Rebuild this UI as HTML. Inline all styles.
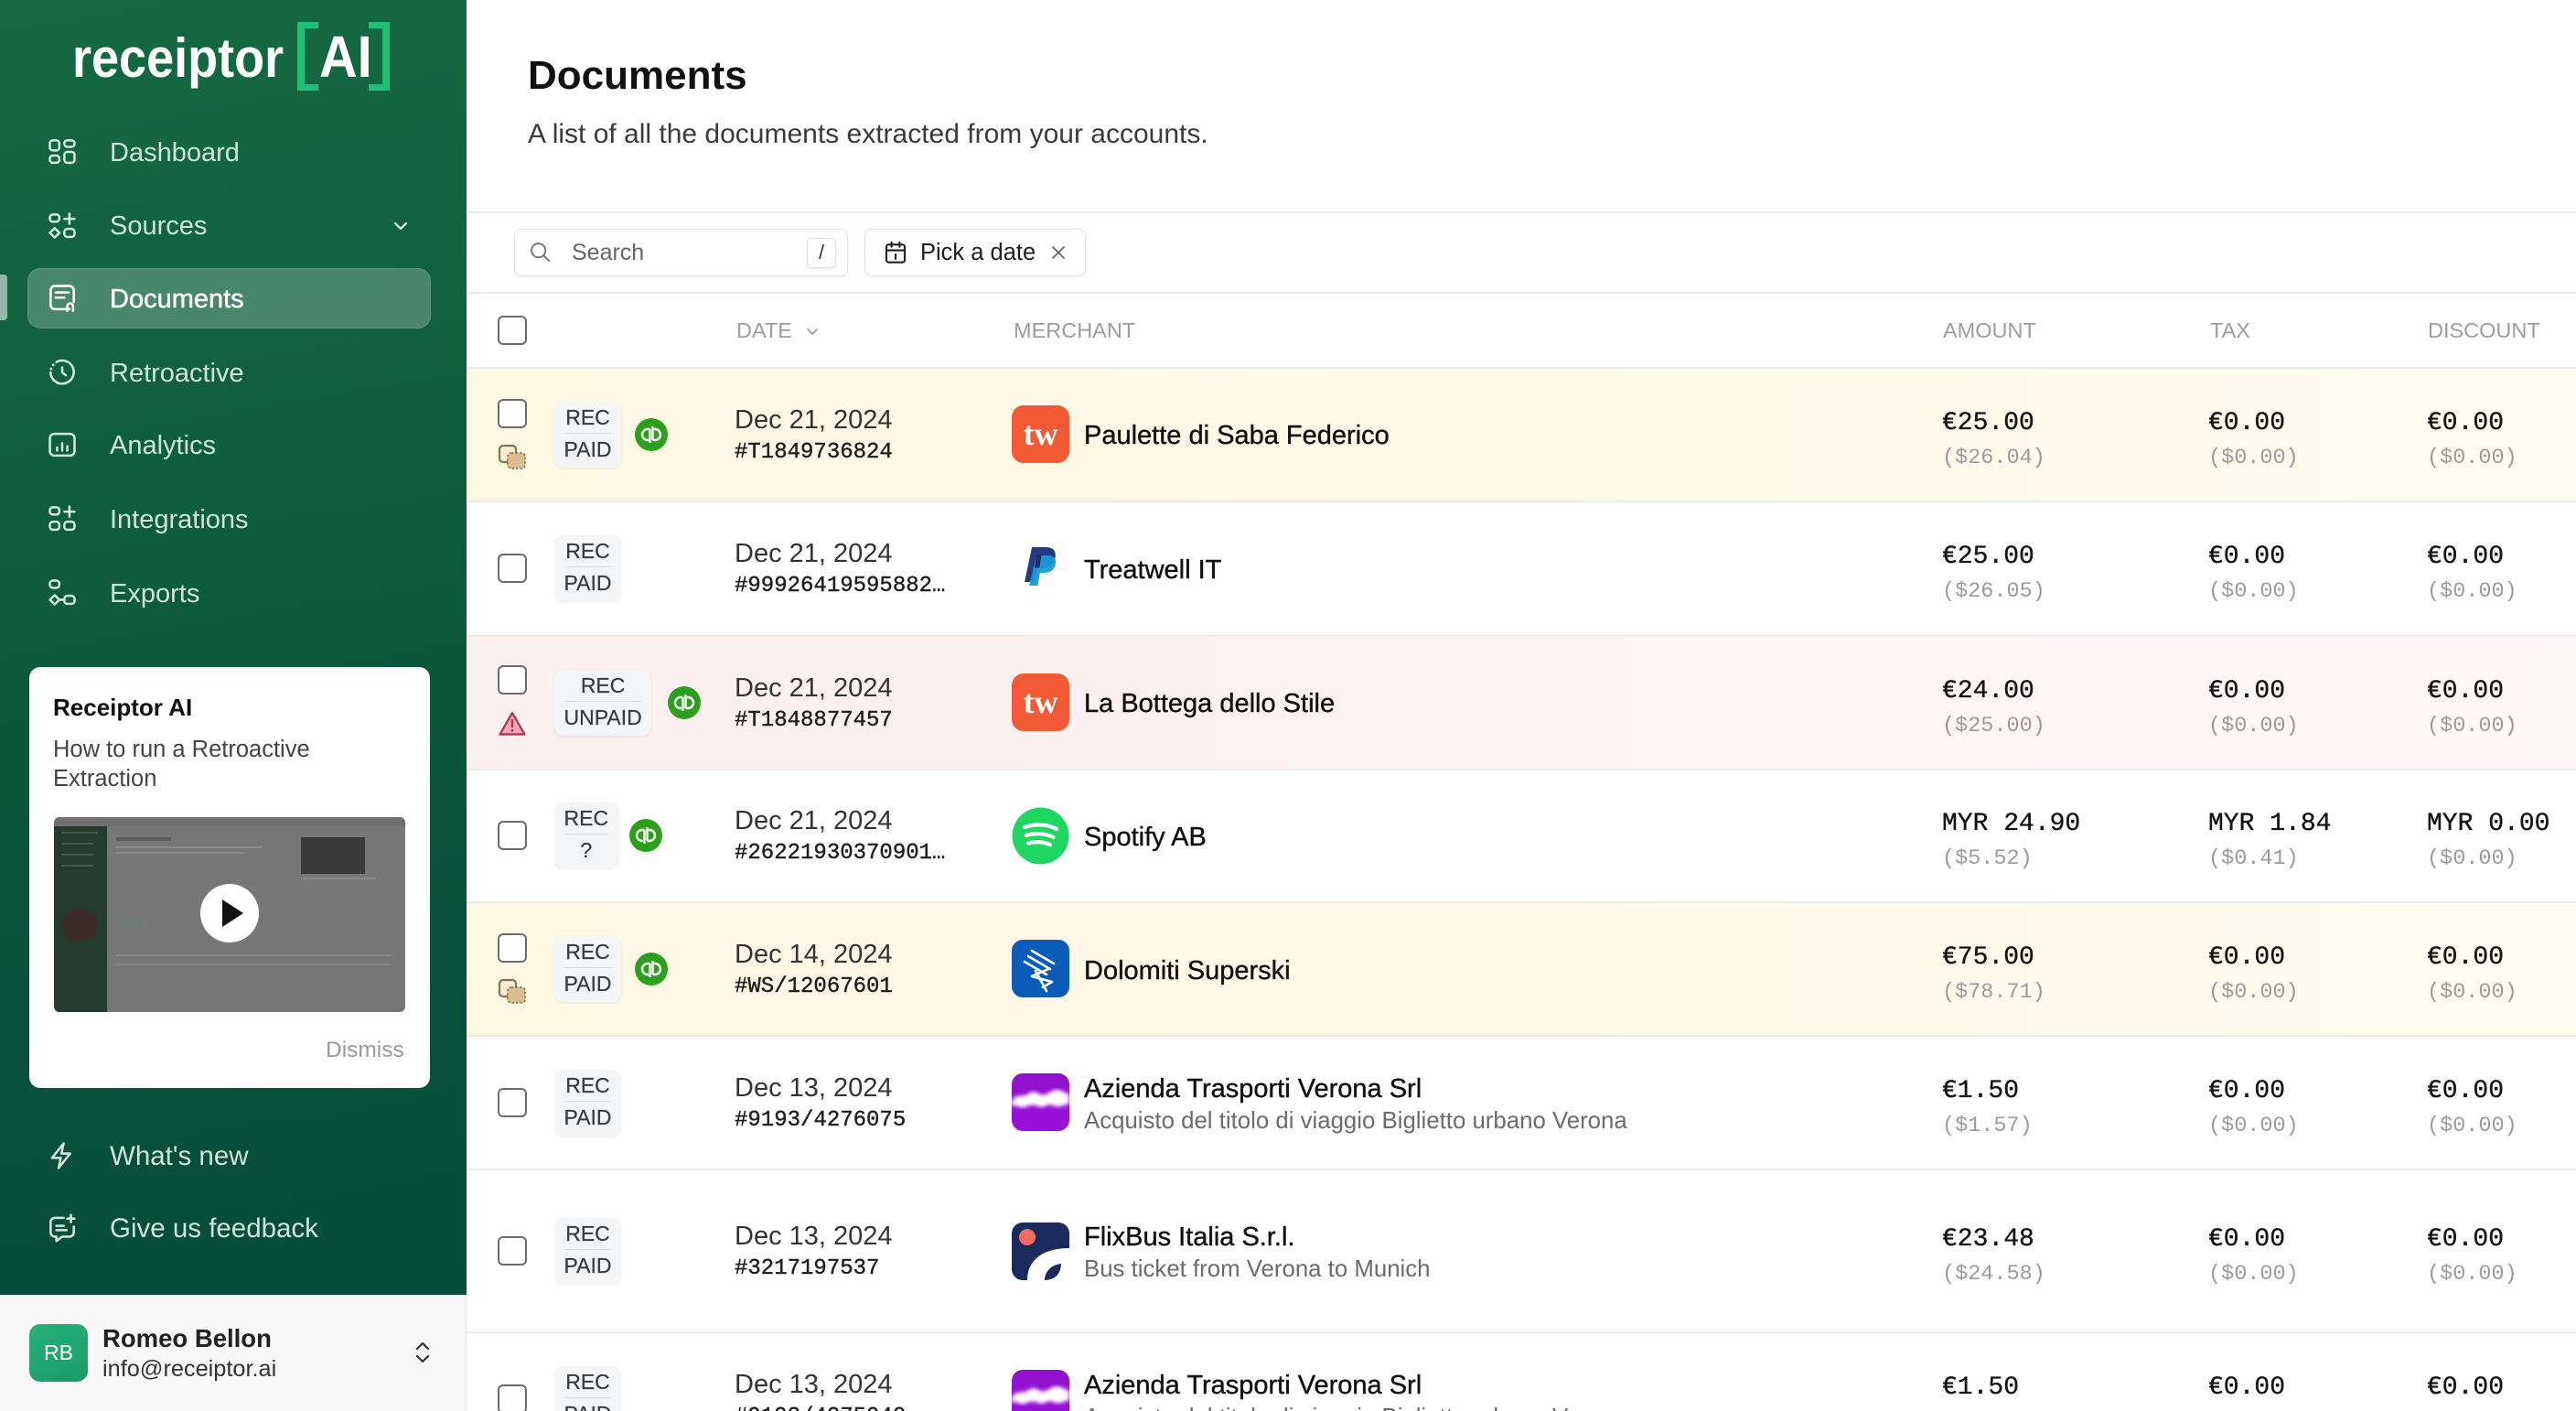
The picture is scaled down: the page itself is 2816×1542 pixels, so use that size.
<!DOCTYPE html>
<html><head><meta charset="utf-8">
<style>
*{margin:0;padding:0;box-sizing:border-box}
html,body{width:2816px;height:1542px;overflow:hidden;background:#fff;font-family:"Liberation Sans",Arial,sans-serif;position:relative}
.a{position:absolute;white-space:nowrap}
#side{position:absolute;left:0;top:0;width:510px;height:1415px;background:linear-gradient(170deg,#156a42 0%,#0e5d3d 40%,#08513b 75%,#064d39 100%)}
.nav{position:absolute;left:120px;height:40px;line-height:40px;font-size:29px;color:#cfe5d8;white-space:nowrap}
.nic{position:absolute;left:49px;width:38px;height:38px}
.nic *{fill:none;stroke:#d3e9dc;stroke-width:1.6;stroke-linecap:round;stroke-linejoin:round}
.hl{position:absolute;left:0;width:2816px;height:2px;background:#ebebeb}
.rowbg{position:absolute;left:510px;width:2306px}
.cb{position:absolute;left:544px;width:32px;height:32px;border:2.5px solid #6c6c6c;border-radius:6px;background:#fff}
.tag{position:absolute;left:606px;height:72px;padding:0 10.5px;background:#f4f5f6;border-radius:10px;box-shadow:0 1px 3px rgba(0,0,0,.08);font-size:23px;color:#383c42;text-align:center;-webkit-text-stroke:.25px #383c42}
.tag div{height:35px;line-height:35px}
.tag div:first-child{border-bottom:1.5px solid #dcdfe2}
.qb{position:absolute;width:36px;height:36px}
.d1{position:absolute;left:803px;height:36px;line-height:36px;font-size:29px;color:#333;white-space:nowrap}
.d2{position:absolute;left:803px;height:32px;line-height:32px;font-family:"Liberation Mono",monospace;font-size:24px;color:#1e1e1e;-webkit-text-stroke:.4px #1e1e1e;white-space:nowrap}
.mi{position:absolute;left:1106px;width:63px;height:63px}
.mn{position:absolute;left:1185px;height:38px;line-height:38px;font-size:29px;color:#111;-webkit-text-stroke:.4px #111;white-space:nowrap}
.ms{position:absolute;left:1185px;height:32px;line-height:32px;font-size:25.8px;color:#6b6b6b;white-space:nowrap}
.v1{position:absolute;height:34px;line-height:34px;font-family:"Liberation Mono",monospace;font-size:28px;color:#141414;-webkit-text-stroke:.35px #141414;white-space:nowrap;margin-top:4px}
.v2{position:absolute;height:30px;line-height:30px;font-family:"Liberation Mono",monospace;font-size:23.5px;color:#9a9a9a;white-space:nowrap;margin-top:4px}
.c1{left:2123px}.c2{left:2414px}.c3{left:2653px}
.th{position:absolute;top:345px;height:32px;line-height:32px;font-size:23.5px;color:#9d9d9d;white-space:nowrap}
</style></head><body>

<!-- SIDEBAR -->
<div id="side"></div>
<!-- logo -->
<div class="a" style="left:79px;top:19px;height:90px;line-height:90px;font-size:60px;font-weight:bold;color:#fff;transform:scaleX(.9);transform-origin:left center">receiptor</div>
<div class="a" style="left:325px;top:24px;width:8px;height:75px;background:#1fbf75"></div>
<div class="a" style="left:325px;top:24px;width:23px;height:7px;background:#1fbf75"></div>
<div class="a" style="left:325px;top:92px;width:23px;height:7px;background:#1fbf75"></div>
<div class="a" style="left:418px;top:24px;width:8px;height:75px;background:#1fbf75"></div>
<div class="a" style="left:403px;top:24px;width:23px;height:7px;background:#1fbf75"></div>
<div class="a" style="left:403px;top:92px;width:23px;height:7px;background:#1fbf75"></div>
<div class="a" style="left:349px;top:22px;height:80px;line-height:80px;font-size:64px;font-weight:bold;color:#fff;transform:scaleX(.9);transform-origin:left center">AI</div>

<!-- nav highlight -->
<div class="a" style="left:30px;top:293px;width:441px;height:66px;border-radius:14px;background:rgba(255,255,255,.24);border:1.5px solid rgba(255,255,255,.12)"></div>
<div class="a" style="left:0;top:300px;width:8px;height:50px;border-radius:0 4px 4px 0;background:rgba(255,255,255,.55)"></div>

<!-- nav icons -->
<svg class="nic" style="top:147px" viewBox="0 0 24 24"><rect x="3.5" y="4" width="6.5" height="7" rx="2"/><rect x="13.5" y="4" width="7" height="4.5" rx="2"/><rect x="3.5" y="14.5" width="6.5" height="5" rx="2"/><rect x="13.5" y="12" width="7" height="7.5" rx="2"/></svg>
<div class="nav" style="top:147px">Dashboard</div>

<svg class="nic" style="top:228px" viewBox="0 0 24 24"><rect x="3.5" y="4" width="6.5" height="5" rx="2"/><path d="M17 3.5v7M13.5 7h7"/><path d="M6.8 13.5l3.3 3.2-3.3 3.2-3.3-3.2z"/><rect x="13.5" y="14" width="7" height="5.5" rx="2"/></svg>
<div class="nav" style="top:227px">Sources</div>
<svg class="a" style="left:428px;top:237px" width="20" height="20" viewBox="0 0 20 20"><path d="M4 7l6 6 6-6" fill="none" stroke="#e6f2ea" stroke-width="2.2" stroke-linecap="round" stroke-linejoin="round"/></svg>

<svg class="nic" style="top:307px" viewBox="0 0 24 24"><path d="M17 19.5H7a3 3 0 0 1-3-3v-10a3 3 0 0 1 3-3h10a3 3 0 0 1 3 3v8" style="stroke:#fff"/><path d="M7.5 8h9M7.5 11.5h6" style="stroke:#fff"/><path d="M15.5 20.5v-3a2 2 0 0 1 4 0v3" style="stroke:#fff"/></svg>
<div class="nav" style="top:307px;color:#fff;-webkit-text-stroke:.5px #fff">Documents</div>

<svg class="nic" style="top:388px" viewBox="0 0 24 24"><path d="M8 4.8A8 8 0 1 1 4 12" /><path d="M4.3 9.5v0M5.8 6.8v0M4.5 14.8v0M6.2 17.5v0M9 19.5v0" style="stroke-width:1.8"/><path d="M12 8.5v3.5l2.5 2"/></svg>
<div class="nav" style="top:388px">Retroactive</div>

<svg class="nic" style="top:467px" viewBox="0 0 24 24"><rect x="3.5" y="4.5" width="17" height="15" rx="3"/><path d="M8.5 16v-2M12 16v-5M15.5 16v-3"/></svg>
<div class="nav" style="top:467px">Analytics</div>

<svg class="nic" style="top:548px" viewBox="0 0 24 24"><rect x="3.5" y="4" width="6.5" height="5" rx="2"/><path d="M17 3.5v7M13.5 7h7"/><rect x="3.5" y="14" width="6.5" height="5.5" rx="2"/><rect x="13.5" y="14" width="7" height="5.5" rx="2"/></svg>
<div class="nav" style="top:548px">Integrations</div>

<svg class="nic" style="top:629px" viewBox="0 0 24 24"><rect x="3.5" y="3.5" width="6.5" height="5" rx="2"/><path d="M6.8 13.5l3.3 3.2-3.3 3.2-3.3-3.2z"/><path d="M10.1 16.7h3.4"/><rect x="13.5" y="14" width="7" height="5.5" rx="2"/></svg>
<div class="nav" style="top:629px">Exports</div>

<!-- card -->
<div class="a" style="left:32px;top:729px;width:438px;height:460px;border-radius:12px;background:#fff"></div>
<div class="a" style="left:58px;top:757px;height:32px;line-height:32px;font-size:26px;font-weight:bold;color:#111">Receiptor AI</div>
<div class="a" style="left:58px;top:803px;height:32px;line-height:32px;font-size:25.5px;color:#444">How to run a Retroactive</div>
<div class="a" style="left:58px;top:835px;height:32px;line-height:32px;font-size:25.5px;color:#444">Extraction</div>
<div class="a" style="left:59px;top:893px;width:384px;height:213px;border-radius:6px;background:#777;overflow:hidden">
  <div class="a" style="left:0;top:10px;width:58px;height:203px;background:#243b2f"></div>
  <div class="a" style="left:0;top:0;width:384px;height:10px;background:#6e6e6e"></div>
  <div class="a" style="left:68px;top:22px;width:60px;height:4px;background:#5e5e5e"></div>
  <div class="a" style="left:68px;top:32px;width:160px;height:2px;background:#8a8a8a"></div>
  <div class="a" style="left:68px;top:38px;width:140px;height:2px;background:#8a8a8a"></div>
  <div class="a" style="left:68px;top:110px;width:30px;height:8px;background:#6e7a70"></div>
  <div class="a" style="left:270px;top:22px;width:70px;height:40px;background:#3a3a3a"></div>
  <div class="a" style="left:270px;top:66px;width:80px;height:2px;background:#8a8a8a"></div>
  <div class="a" style="left:68px;top:150px;width:300px;height:2px;background:#8a8a8a"></div>
  <div class="a" style="left:68px;top:160px;width:300px;height:2px;background:#858585"></div>
  <div class="a" style="left:8px;top:100px;width:40px;height:36px;border-radius:50%;background:#3b2e2a"></div>
  <div class="a" style="left:8px;top:16px;width:40px;height:2px;background:#3d5a4b"></div>
  <div class="a" style="left:8px;top:28px;width:35px;height:2px;background:#3d5a4b"></div>
  <div class="a" style="left:8px;top:40px;width:35px;height:2px;background:#3d5a4b"></div>
  <div class="a" style="left:8px;top:52px;width:35px;height:2px;background:#3d5a4b"></div>
</div>
<svg class="a" style="left:219px;top:966px" width="64" height="64" viewBox="0 0 64 64"><circle cx="32" cy="32" r="32" fill="#fff"/><path d="M24 17L47 32 24 47z" fill="#111"/></svg>
<div class="a" style="left:356px;top:1132px;height:32px;line-height:32px;font-size:24.5px;color:#9a9a9a">Dismiss</div>

<!-- bottom nav -->
<svg class="nic" style="top:1244px" viewBox="0 0 24 24"><path d="M13 3.5L5 13.5h6l-1.5 7 8-10h-6z"/></svg>
<div class="nav" style="top:1244px;font-size:29.5px">What's new</div>
<svg class="nic" style="top:1323px" viewBox="0 0 24 24"><path d="M13 5H7a3 3 0 0 0-3 3v7a3 3 0 0 0 3 3h1v3l4-3h5a3 3 0 0 0 3-3v-4"/><path d="M8 10.5h5M8 13.5h7"/><path d="M18 3v5M15.5 5.5h5"/></svg>
<div class="nav" style="top:1323px;font-size:29.5px">Give us feedback</div>

<!-- user -->
<div class="a" style="left:0;top:1415px;width:510px;height:127px;background:#f7f7f7;border-right:1px solid #e8e8e8"></div>
<div class="a" style="left:32px;top:1447px;width:64px;height:63px;border-radius:12px;background:linear-gradient(160deg,#27b27a,#1a9a68);color:#fff;font-size:23px;line-height:63px;text-align:center">RB</div>
<div class="a" style="left:112px;top:1446px;height:34px;line-height:34px;font-size:27.5px;font-weight:bold;color:#222">Romeo Bellon</div>
<div class="a" style="left:112px;top:1480px;height:32px;line-height:32px;font-size:25.3px;color:#333">info@receiptor.ai</div>
<svg class="a" style="left:450px;top:1462px" width="24" height="32" viewBox="0 0 24 32"><path d="M6 12l6-6 6 6M6 20l6 6 6-6" fill="none" stroke="#333" stroke-width="2.2" stroke-linecap="round" stroke-linejoin="round"/></svg>

<!-- MAIN HEADER -->
<div class="a" style="left:577px;top:57px;height:52px;line-height:52px;font-size:44px;font-weight:bold;color:#111">Documents</div>
<div class="a" style="left:577px;top:129px;height:36px;line-height:36px;font-size:30px;color:#3a3a3a">A list of all the documents extracted from your accounts.</div>
<div class="hl" style="left:510px;top:231px"></div>

<!-- search -->
<div class="a" style="left:562px;top:250px;width:365px;height:52px;border:1.5px solid #e3e3e3;border-radius:8px;box-shadow:0 1px 3px rgba(0,0,0,.06);background:#fff"></div>
<svg class="a" style="left:577px;top:262px" width="28" height="28" viewBox="0 0 24 24"><circle cx="10" cy="10" r="6.5" fill="none" stroke="#777" stroke-width="1.7"/><path d="M15 15l5 5" stroke="#777" stroke-width="1.7" stroke-linecap="round"/></svg>
<div class="a" style="left:625px;top:258px;height:36px;line-height:36px;font-size:25px;color:#666">Search</div>
<div class="a" style="left:882px;top:260px;width:32px;height:33px;border:1.5px solid #e2e2e2;border-radius:5px;box-shadow:0 1px 2px rgba(0,0,0,.08);font-size:22px;line-height:30px;text-align:center;color:#333">/</div>

<div class="a" style="left:945px;top:250px;width:242px;height:52px;border:1.5px solid #e3e3e3;border-radius:8px;box-shadow:0 1px 3px rgba(0,0,0,.06);background:#fff"></div>
<svg class="a" style="left:964px;top:261px" width="30" height="30" viewBox="0 0 24 24"><rect x="4" y="5" width="16" height="15.5" rx="2" fill="none" stroke="#222" stroke-width="1.7"/><path d="M4 10h16M8.5 3v4M15.5 3v4M12 13.5v4" stroke="#222" stroke-width="1.7" stroke-linecap="round" fill="none"/></svg>
<div class="a" style="left:1006px;top:258px;height:36px;line-height:36px;font-size:25.5px;color:#1e1e1e">Pick a date</div>
<svg class="a" style="left:1147px;top:266px" width="20" height="20" viewBox="0 0 20 20"><path d="M4 4l12 12M16 4L4 16" stroke="#666" stroke-width="1.8" stroke-linecap="round"/></svg>

<div class="hl" style="left:510px;top:319px"></div>

<!-- table header -->
<div class="cb" style="top:345px"></div>
<div class="th" style="left:805px">DATE</div>
<svg class="a" style="left:879px;top:353px" width="18" height="18" viewBox="0 0 18 18"><path d="M4 7l5 5 5-5" fill="none" stroke="#9d9d9d" stroke-width="1.8" stroke-linecap="round" stroke-linejoin="round"/></svg>
<div class="th" style="left:1108px">MERCHANT</div>
<div class="th" style="left:2124px">AMOUNT</div>
<div class="th" style="left:2416px">TAX</div>
<div class="th" style="left:2654px">DISCOUNT</div>
<div class="hl" style="left:510px;top:401px"></div>

<!-- ROW 1 T=402 C=475 -->
<div class="rowbg" style="top:403px;height:144px;background:linear-gradient(90deg,#fdf8e2 0%,#fdf9e6 50%,#fefcf1 100%)"></div>
<div class="cb" style="top:436px"></div>
<svg class="a" style="left:544px;top:485px" width="34" height="30" viewBox="0 0 34 30"><rect x="2" y="2" width="18" height="18" rx="4" fill="#f6ecd8" stroke="#8a7350" stroke-width="2.2"/><rect x="11" y="10" width="19" height="17" rx="4" fill="#dcbd92" stroke="#8a6a3e" stroke-width="1.6" stroke-dasharray="2.5 2"/></svg>
<div class="tag" style="top:439px"><div>REC</div><div>PAID</div></div>
<svg class="qb" style="left:694px;top:457px" viewBox="0 0 36 36"><circle cx="18" cy="18" r="18" fill="#2ca01c"/><path d="M16.5 12h-2.5a6 6 0 0 0 0 12h1M16.5 12v15M19.5 24h2.5a6 6 0 0 0 0-12h-1M19.5 24v-15" fill="none" stroke="#fff" stroke-width="2.4"/></svg>
<div class="d1" style="top:441px">Dec 21, 2024</div>
<div class="d2" style="top:479px">#T1849736824</div>
<svg class="mi" style="top:443px" viewBox="0 0 63 63"><rect width="63" height="63" rx="13" fill="#f25a36"/><text x="31.5" y="43" text-anchor="middle" font-family="Liberation Serif,serif" font-size="36" font-weight="bold" fill="#fff">tw</text></svg>
<div class="mn" style="top:457px">Paulette di Saba Federico</div>
<div class="v1 c1" style="top:442px">€25.00</div><div class="v2 c1" style="top:482px">($26.04)</div>
<div class="v1 c2" style="top:442px">€0.00</div><div class="v2 c2" style="top:482px">($0.00)</div>
<div class="v1 c3" style="top:442px">€0.00</div><div class="v2 c3" style="top:482px">($0.00)</div>
<div class="hl" style="left:510px;top:547px"></div>

<!-- ROW 2 T=549 C=621 -->
<div class="cb" style="top:605px"></div>
<div class="tag" style="top:585px"><div>REC</div><div>PAID</div></div>
<div class="d1" style="top:587px">Dec 21, 2024</div>
<div class="d2" style="top:625px">#99926419595882…</div>
<svg class="mi" style="top:590px" viewBox="0 0 63 63"><path d="M22 8h15c8 0 12 4 10.5 11.5C46 27 40 31 33 31h-5l-3 15H14z" fill="#253b80"/><path d="M27 17h13c6 0 9 3.5 7.8 9.5C46.5 33 42 36 35.5 36h-4.5l-2.7 14H19z" fill="#179bd7" opacity=".95"/><path d="M27 17h5.5l-2.3 13.5H25z" fill="#222d65"/></svg>
<div class="mn" style="top:604px">Treatwell IT</div>
<div class="v1 c1" style="top:588px">€25.00</div><div class="v2 c1" style="top:628px">($26.05)</div>
<div class="v1 c2" style="top:588px">€0.00</div><div class="v2 c2" style="top:628px">($0.00)</div>
<div class="v1 c3" style="top:588px">€0.00</div><div class="v2 c3" style="top:628px">($0.00)</div>
<div class="hl" style="left:510px;top:694px"></div>

<!-- ROW 3 T=696 C=768 -->
<div class="rowbg" style="top:696px;height:144px;background:linear-gradient(90deg,#fcefef 0%,#fdf2f2 50%,#fef9f9 100%)"></div>
<div class="cb" style="top:727px"></div>
<svg class="a" style="left:544px;top:776px" width="32" height="30" viewBox="0 0 32 30"><path d="M16 3L29.5 26.5H2.5z" fill="#f2a6b6" stroke="#a8324f" stroke-width="2.2" stroke-linejoin="round"/><path d="M16 11v7M16 22v.5" stroke="#a8324f" stroke-width="2.4" stroke-linecap="round"/></svg>
<div class="tag" style="top:732px"><div>REC</div><div>UNPAID</div></div>
<svg class="qb" style="left:730px;top:750px" viewBox="0 0 36 36"><circle cx="18" cy="18" r="18" fill="#2ca01c"/><path d="M16.5 12h-2.5a6 6 0 0 0 0 12h1M16.5 12v15M19.5 24h2.5a6 6 0 0 0 0-12h-1M19.5 24v-15" fill="none" stroke="#fff" stroke-width="2.4"/></svg>
<div class="d1" style="top:734px">Dec 21, 2024</div>
<div class="d2" style="top:772px">#T1848877457</div>
<svg class="mi" style="top:736px" viewBox="0 0 63 63"><rect width="63" height="63" rx="13" fill="#f25a36"/><text x="31.5" y="43" text-anchor="middle" font-family="Liberation Serif,serif" font-size="36" font-weight="bold" fill="#fff">tw</text></svg>
<div class="mn" style="top:750px">La Bottega dello Stile</div>
<div class="v1 c1" style="top:735px">€24.00</div><div class="v2 c1" style="top:775px">($25.00)</div>
<div class="v1 c2" style="top:735px">€0.00</div><div class="v2 c2" style="top:775px">($0.00)</div>
<div class="v1 c3" style="top:735px">€0.00</div><div class="v2 c3" style="top:775px">($0.00)</div>
<div class="hl" style="left:510px;top:840px"></div>

<!-- ROW 4 T=842 C=913 -->
<div class="cb" style="top:897px"></div>
<div class="tag" style="top:877px"><div>REC</div><div>?</div></div>
<svg class="qb" style="left:688px;top:895px" viewBox="0 0 36 36"><circle cx="18" cy="18" r="18" fill="#2ca01c"/><path d="M16.5 12h-2.5a6 6 0 0 0 0 12h1M16.5 12v15M19.5 24h2.5a6 6 0 0 0 0-12h-1M19.5 24v-15" fill="none" stroke="#fff" stroke-width="2.4"/></svg>
<div class="d1" style="top:879px">Dec 21, 2024</div>
<div class="d2" style="top:917px">#26221930370901…</div>
<svg class="mi" style="top:882px" viewBox="0 0 63 63"><circle cx="31.5" cy="31.5" r="31" fill="#1ed760"/><path d="M14 22c11-4 25-3.5 35 2M16 31c9.5-3 21-2.5 29.5 2M18 39.5c8-2.2 17-1.8 24 1.8" fill="none" stroke="#fff" stroke-width="4.2" stroke-linecap="round"/></svg>
<div class="mn" style="top:896px">Spotify AB</div>
<div class="v1 c1" style="top:880px">MYR 24.90</div><div class="v2 c1" style="top:920px">($5.52)</div>
<div class="v1 c2" style="top:880px">MYR 1.84</div><div class="v2 c2" style="top:920px">($0.41)</div>
<div class="v1 c3" style="top:880px">MYR 0.00</div><div class="v2 c3" style="top:920px">($0.00)</div>
<div class="hl" style="left:510px;top:985px"></div>

<!-- ROW 5 T=987 C=1059 -->
<div class="rowbg" style="top:987px;height:144px;background:linear-gradient(90deg,#fdf8e2 0%,#fdf9e6 50%,#fefcf1 100%)"></div>
<div class="cb" style="top:1020px"></div>
<svg class="a" style="left:544px;top:1069px" width="34" height="30" viewBox="0 0 34 30"><rect x="2" y="2" width="18" height="18" rx="4" fill="#f6ecd8" stroke="#8a7350" stroke-width="2.2"/><rect x="11" y="10" width="19" height="17" rx="4" fill="#dcbd92" stroke="#8a6a3e" stroke-width="1.6" stroke-dasharray="2.5 2"/></svg>
<div class="tag" style="top:1023px"><div>REC</div><div>PAID</div></div>
<svg class="qb" style="left:694px;top:1041px" viewBox="0 0 36 36"><circle cx="18" cy="18" r="18" fill="#2ca01c"/><path d="M16.5 12h-2.5a6 6 0 0 0 0 12h1M16.5 12v15M19.5 24h2.5a6 6 0 0 0 0-12h-1M19.5 24v-15" fill="none" stroke="#fff" stroke-width="2.4"/></svg>
<div class="d1" style="top:1025px">Dec 14, 2024</div>
<div class="d2" style="top:1063px">#WS/12067601</div>
<svg class="mi" style="top:1027px" viewBox="0 0 63 63"><rect width="63" height="63" rx="12" fill="#0b5cb8"/><path d="M22 12l24 14M18 18l24 14M14 24l24 14M40 32L22 40l22 6-10 6M26 34l12 22" fill="none" stroke="#fff" stroke-width="2.6" stroke-linecap="round" stroke-linejoin="round"/></svg>
<div class="mn" style="top:1042px">Dolomiti Superski</div>
<div class="v1 c1" style="top:1026px">€75.00</div><div class="v2 c1" style="top:1066px">($78.71)</div>
<div class="v1 c2" style="top:1026px">€0.00</div><div class="v2 c2" style="top:1066px">($0.00)</div>
<div class="v1 c3" style="top:1026px">€0.00</div><div class="v2 c3" style="top:1066px">($0.00)</div>
<div class="hl" style="left:510px;top:1131px"></div>

<!-- ROW 6 T=1133 C=1205 -->
<div class="cb" style="top:1189px"></div>
<div class="tag" style="top:1169px"><div>REC</div><div>PAID</div></div>
<div class="d1" style="top:1171px">Dec 13, 2024</div>
<div class="d2" style="top:1209px">#9193/4276075</div>
<svg class="mi" style="top:1173px" viewBox="0 0 63 63"><defs><linearGradient id="pg" x1="0" y1="0" x2="0" y2="1"><stop offset="0" stop-color="#8f12c9"/><stop offset="1" stop-color="#9a10dc"/></linearGradient><filter id="bl"><feGaussianBlur stdDeviation="2"/></filter></defs><rect width="63" height="63" rx="12" fill="url(#pg)"/><path d="M0 30c6-8 10-4 15-6s8-6 14-2 10 0 16-3 12 2 18 4v10c-6 2-12 5-18 2s-10 4-16 1-10-1-15 1-9-4-14-1z" fill="#fff" filter="url(#bl)"/></svg>
<div class="mn" style="top:1171px">Azienda Trasporti Verona Srl</div>
<div class="ms" style="top:1209px">Acquisto del titolo di viaggio Biglietto urbano Verona</div>
<div class="v1 c1" style="top:1172px">€1.50</div><div class="v2 c1" style="top:1212px">($1.57)</div>
<div class="v1 c2" style="top:1172px">€0.00</div><div class="v2 c2" style="top:1212px">($0.00)</div>
<div class="v1 c3" style="top:1172px">€0.00</div><div class="v2 c3" style="top:1212px">($0.00)</div>
<div class="hl" style="left:510px;top:1277px"></div>

<!-- ROW 7 T=1279 H=177 C=1367 -->
<div class="cb" style="top:1351px"></div>
<div class="tag" style="top:1331px"><div>REC</div><div>PAID</div></div>
<div class="d1" style="top:1333px">Dec 13, 2024</div>
<div class="d2" style="top:1371px">#3217197537</div>
<svg class="mi" style="top:1336px" viewBox="0 0 63 63"><rect width="63" height="63" rx="12" fill="#1b2a5c"/><circle cx="17" cy="16" r="9" fill="#f26b5e"/><path d="M17 63C17 42 33 28 63 28V63z" fill="#fff"/><path d="M36 63c0-10 8-17 18-18 0 10-6 18-18 18z" fill="#1b2a5c"/></svg>
<div class="mn" style="top:1333px">FlixBus Italia S.r.l.</div>
<div class="ms" style="top:1371px">Bus ticket from Verona to Munich</div>
<div class="v1 c1" style="top:1334px">€23.48</div><div class="v2 c1" style="top:1374px">($24.58)</div>
<div class="v1 c2" style="top:1334px">€0.00</div><div class="v2 c2" style="top:1374px">($0.00)</div>
<div class="v1 c3" style="top:1334px">€0.00</div><div class="v2 c3" style="top:1374px">($0.00)</div>
<div class="hl" style="left:510px;top:1455px"></div>

<!-- ROW 8 T=1457 C=1529 -->
<div class="cb" style="top:1513px"></div>
<div class="tag" style="top:1493px"><div>REC</div><div>PAID</div></div>
<div class="d1" style="top:1495px">Dec 13, 2024</div>
<div class="d2" style="top:1533px">#9193/4275040</div>
<svg class="mi" style="top:1497px" viewBox="0 0 63 63"><rect width="63" height="63" rx="12" fill="url(#pg)"/><path d="M0 30c6-8 10-4 15-6s8-6 14-2 10 0 16-3 12 2 18 4v10c-6 2-12 5-18 2s-10 4-16 1-10-1-15 1-9-4-14-1z" fill="#fff" filter="url(#bl)"/></svg>
<div class="mn" style="top:1495px">Azienda Trasporti Verona Srl</div>
<div class="ms" style="top:1533px">Acquisto del titolo di viaggio Biglietto urbano Verona</div>
<div class="v1 c1" style="top:1496px">€1.50</div><div class="v2 c1" style="top:1536px">($1.57)</div>
<div class="v1 c2" style="top:1496px">€0.00</div><div class="v2 c2" style="top:1536px">($0.00)</div>
<div class="v1 c3" style="top:1496px">€0.00</div><div class="v2 c3" style="top:1536px">($0.00)</div>

</body></html>
